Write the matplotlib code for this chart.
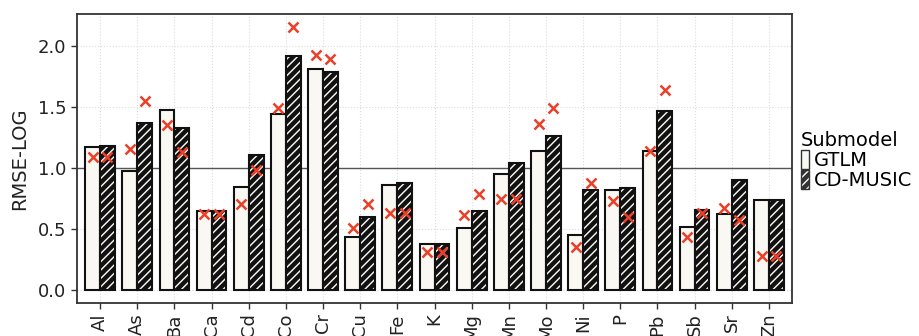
import numpy as np
import matplotlib
matplotlib.use('Agg')
import matplotlib.pyplot as plt
from matplotlib.patches import Patch

elements = ['Al', 'As', 'Ba', 'Ca', 'Cd', 'Co', 'Cr', 'Cu', 'Fe', 'K',
            'Mg', 'Mn', 'Mo', 'Ni', 'P', 'Pb', 'Sb', 'Sr', 'Zn']
gtlm_bar = [1.17, 0.975, 1.478, 0.648, 0.847, 1.443, 1.809, 0.437, 0.861, 0.38,
            0.506, 0.951, 1.137, 0.448, 0.817, 1.139, 0.516, 0.626, 0.738]
cdm_bar = [1.18, 1.366, 1.328, 0.648, 1.107, 1.915, 1.79, 0.598, 0.874, 0.38,
           0.648, 1.044, 1.262, 0.817, 0.833, 1.467, 0.653, 0.899, 0.738]
gtlm_x = [1.09, 1.156, 1.355, 0.626, 0.708, 1.49, 1.923, 0.506, 0.631, 0.309,
          0.612, 0.746, 1.363, 0.352, 0.73, 1.137, 0.434, 0.675, 0.276]
cdm_x = [1.09, 1.55, 1.134, 0.626, 0.981, 2.153, 1.896, 0.708, 0.631, 0.309,
         0.787, 0.746, 1.495, 0.877, 0.596, 1.642, 0.631, 0.571, 0.28]

plt.rcParams['font.family'] = 'DejaVu Sans'
plt.rcParams['hatch.linewidth'] = 3.2
plt.rcParams['hatch.color'] = '#2e2e2e'

fig = plt.figure(figsize=(9.19, 3.36), dpi=100)
ax = fig.add_axes([77/919, 1 - 303/336, (792-77)/919, (303-14)/336])

x = np.arange(len(elements))
w = 0.4
ax.bar(x - w/2, gtlm_bar, w, color='#faf8f3', edgecolor='#111111', linewidth=1.5, zorder=3)
ax.bar(x + w/2, cdm_bar, w, color='#faf8f3', edgecolor='#111111', linewidth=1.5,
       hatch='////', zorder=3)
ax.plot(x - w/2, gtlm_x, 'x', color='#e8402a', ms=6.5, mew=1.8, zorder=4)
ax.plot(x + w/2, cdm_x, 'x', color='#e8402a', ms=6.5, mew=1.8, zorder=4)
ax.axhline(1.0, color='#555555', lw=1, zorder=2)

ax.set_xlim(-0.62, len(elements) - 0.38)
ax.set_ylim(-0.107, 2.262)
ax.set_yticks([0, 0.5, 1.0, 1.5, 2.0])
ax.set_yticklabels(['0.0', '0.5', '1.0', '1.5', '2.0'])
ax.set_xticks(x)
ax.set_xticklabels(elements, rotation=90)
ax.tick_params(labelsize=13, colors='#222222', length=4, width=1, color='#333333')
ax.grid(True, color='#dddddd', linestyle=':', lw=0.8, zorder=0)
for s in ax.spines.values():
    s.set_color('#333333')
    s.set_linewidth(1.3)
ax.set_ylabel('RMSE-LOG', fontsize=14, color='#222222', labelpad=6)

handles = [Patch(facecolor='#faf8f3', edgecolor='#333333', label='GTLM'),
           Patch(facecolor='#faf8f3', edgecolor='#333333', hatch='////', label='CD-MUSIC')]
fig.legend(handles=handles, title='Submodel', loc='upper left', bbox_to_anchor=(797/919, 1 - 127/336),
           frameon=False, fontsize=14, title_fontsize=14, handlelength=0.4, handleheight=1.1,
           handletextpad=0.25, labelspacing=0.0, borderpad=0.2, borderaxespad=0.0,
           alignment='left')

fig.savefig('out.png', dpi=100)
